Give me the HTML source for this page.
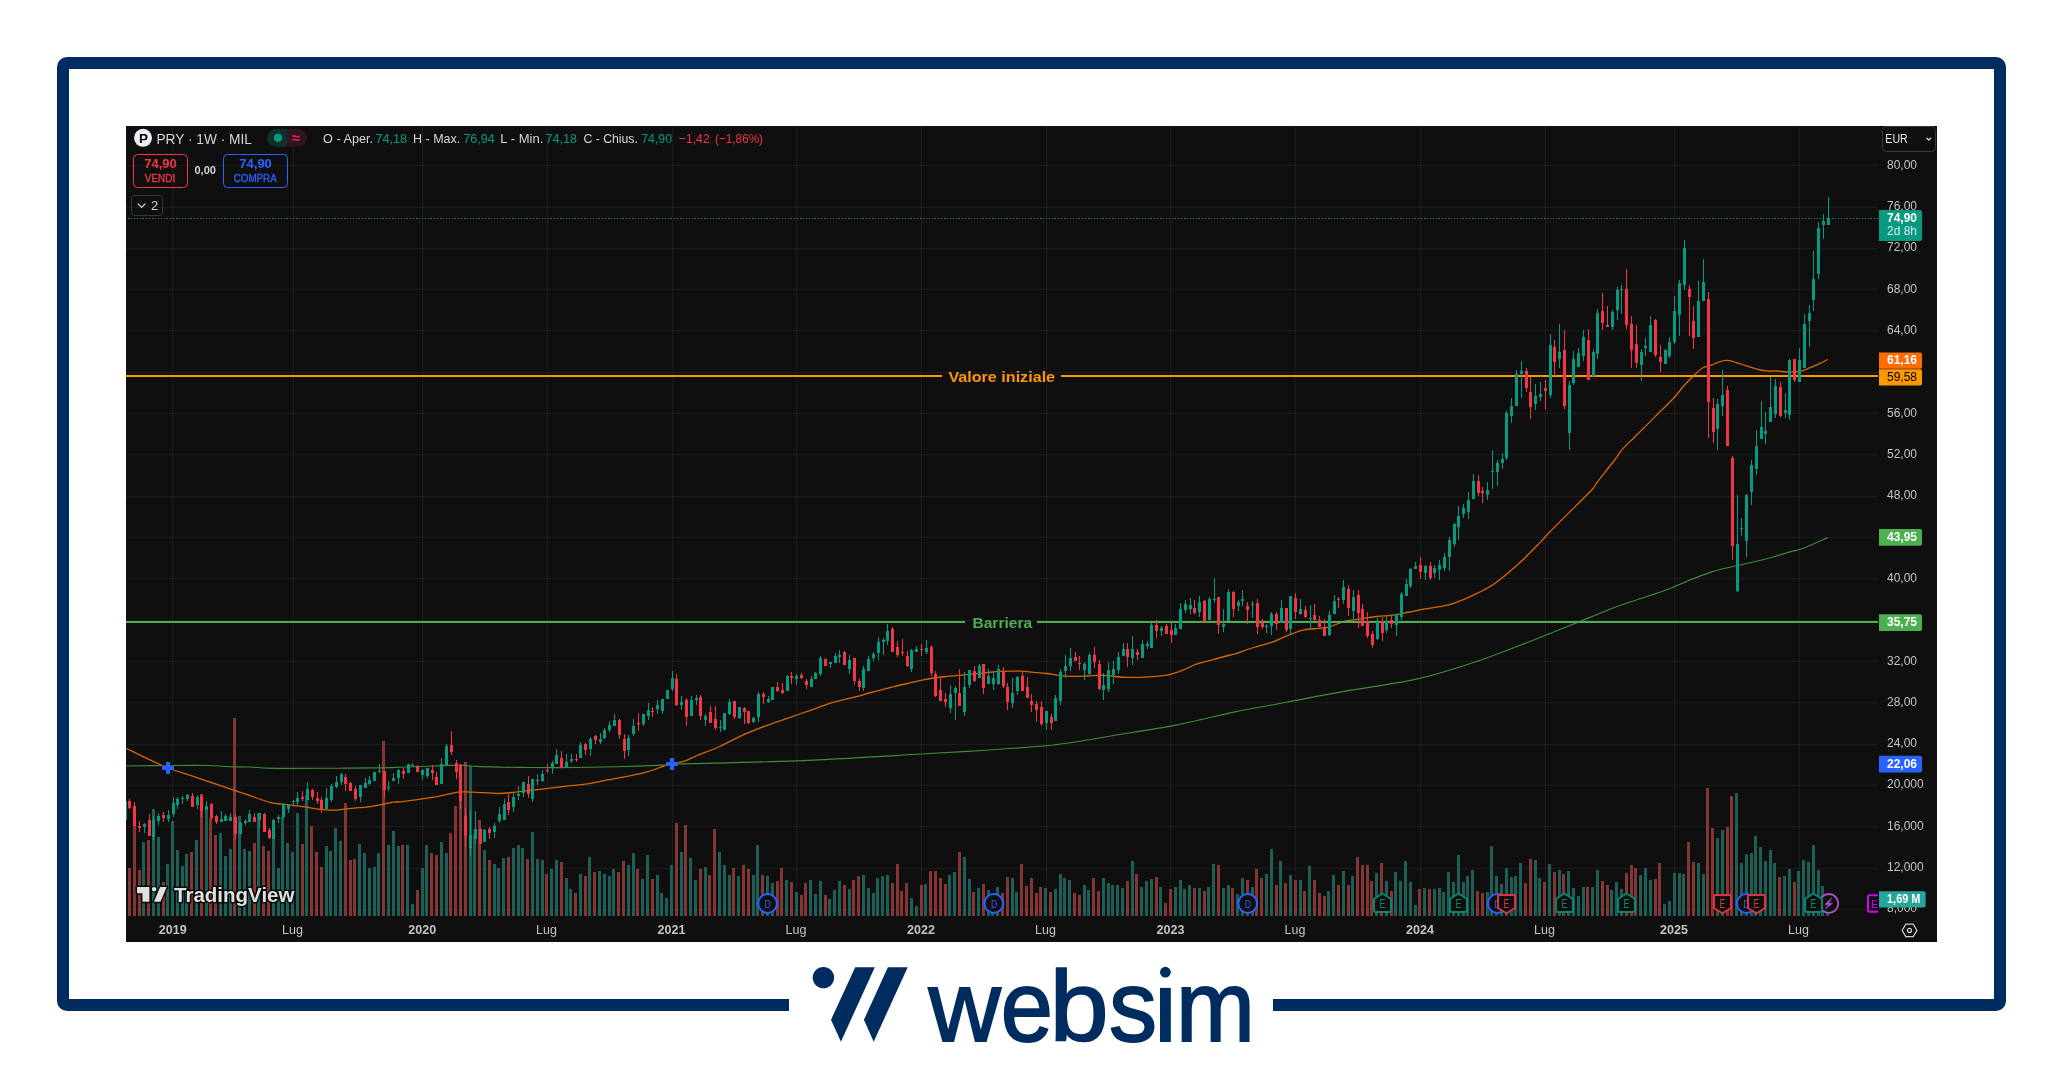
<!DOCTYPE html><html><head><meta charset="utf-8"><style>html,body{margin:0;padding:0;background:#fff;}body{width:2063px;height:1068px;overflow:hidden;position:relative}svg{display:block;will-change:transform}</style></head><body>
<svg width="2063" height="1068" viewBox="0 0 2063 1068" font-family='"Liberation Sans", sans-serif'>
<defs><clipPath id="plot"><rect x="126" y="126" width="1752" height="790"/></clipPath><clipPath id="chart"><rect x="126" y="126" width="1811" height="816"/></clipPath></defs>
<rect x="63" y="63" width="1937" height="942" rx="4" fill="none" stroke="#002c5f" stroke-width="12"/>
<rect x="789" y="995" width="484" height="20" fill="#fff"/>
<rect x="126" y="126" width="1811" height="816" fill="#0f0f0f"/>
<path d="M126 165.5H1878M126 207.5H1878M126 248.5H1878M126 289.5H1878M126 330.5H1878M126 372.5H1878M126 413.5H1878M126 454.5H1878M126 496.5H1878M126 537.5H1878M126 578.5H1878M126 620.5H1878M126 661.5H1878M126 702.5H1878M126 744.5H1878M126 785.5H1878M126 826.5H1878M126 868.5H1878M126 909.5H1878M172.5 126V916M293.5 126V916M422.5 126V916M547.5 126V916M672.5 126V916M796.5 126V916M921.5 126V916M1046.5 126V916M1170.5 126V916M1295.5 126V916M1420.5 126V916M1545.5 126V916M1674.5 126V916M1799.5 126V916" stroke="rgba(242,242,242,0.06)" stroke-width="1" fill="none"/>
<g clip-path="url(#plot)" shape-rendering="crispEdges">
<path d="M142 842h3V916h-3zM152 809h3V916h-3zM157 837h3V916h-3zM166 864h3V916h-3zM171 821h3V916h-3zM176 850h3V916h-3zM181 866h3V916h-3zM185 854h3V916h-3zM195 840h3V916h-3zM205 810h3V916h-3zM219 833h3V916h-3zM224 856h3V916h-3zM229 849h3V916h-3zM238 816h3V916h-3zM243 849h3V916h-3zM248 851h3V916h-3zM257 813h3V916h-3zM272 820h3V916h-3zM277 868h3V916h-3zM281 817h3V916h-3zM286 843h3V916h-3zM291 852h3V916h-3zM296 813h3V916h-3zM305 795h3V916h-3zM325 846h3V916h-3zM329 851h3V916h-3zM334 828h3V916h-3zM339 841h3V916h-3zM358 844h3V916h-3zM363 853h3V916h-3zM368 868h3V916h-3zM373 867h3V916h-3zM377 853h3V916h-3zM387 845h3V916h-3zM392 831h3V916h-3zM397 846h3V916h-3zM406 845h3V916h-3zM411 904h3V916h-3zM421 868h3V916h-3zM425 845h3V916h-3zM440 842h3V916h-3zM445 853h3V916h-3zM469 766h3V916h-3zM473 834h3V916h-3zM483 850h3V916h-3zM493 864h3V916h-3zM497 868h3V916h-3zM502 858h3V916h-3zM512 848h3V916h-3zM517 845h3V916h-3zM521 848h3V916h-3zM531 832h3V916h-3zM536 859h3V916h-3zM541 860h3V916h-3zM550 869h3V916h-3zM555 860h3V916h-3zM565 878h3V916h-3zM569 889h3V916h-3zM579 874h3V916h-3zM588 857h3V916h-3zM598 871h3V916h-3zM603 874h3V916h-3zM608 876h3V916h-3zM612 869h3V916h-3zM627 865h3V916h-3zM632 853h3V916h-3zM641 879h3V916h-3zM646 855h3V916h-3zM656 875h3V916h-3zM660 893h3V916h-3zM665 898h3V916h-3zM670 865h3V916h-3zM680 852h3V916h-3zM689 858h3V916h-3zM694 880h3V916h-3zM704 867h3V916h-3zM718 852h3V916h-3zM723 865h3V916h-3zM728 875h3V916h-3zM737 876h3V916h-3zM752 875h3V916h-3zM756 845h3V916h-3zM766 876h3V916h-3zM771 883h3V916h-3zM785 880h3V916h-3zM795 892h3V916h-3zM809 880h3V916h-3zM814 894h3V916h-3zM819 881h3V916h-3zM828 899h3V916h-3zM833 890h3V916h-3zM838 881h3V916h-3zM848 889h3V916h-3zM862 875h3V916h-3zM867 888h3V916h-3zM872 893h3V916h-3zM876 878h3V916h-3zM881 876h3V916h-3zM886 875h3V916h-3zM910 898h3V916h-3zM915 906h3V916h-3zM924 884h3V916h-3zM948 875h3V916h-3zM953 872h3V916h-3zM963 857h3V916h-3zM968 879h3V916h-3zM977 888h3V916h-3zM987 890h3V916h-3zM991 895h3V916h-3zM996 887h3V916h-3zM1011 878h3V916h-3zM1015 892h3V916h-3zM1044 888h3V916h-3zM1054 889h3V916h-3zM1059 874h3V916h-3zM1063 878h3V916h-3zM1068 880h3V916h-3zM1083 885h3V916h-3zM1087 890h3V916h-3zM1102 878h3V916h-3zM1107 883h3V916h-3zM1111 885h3V916h-3zM1116 885h3V916h-3zM1121 888h3V916h-3zM1131 861h3V916h-3zM1140 887h3V916h-3zM1145 881h3V916h-3zM1150 879h3V916h-3zM1159 887h3V916h-3zM1174 887h3V916h-3zM1179 880h3V916h-3zM1183 889h3V916h-3zM1188 885h3V916h-3zM1198 888h3V916h-3zM1207 887h3V916h-3zM1212 864h3V916h-3zM1222 888h3V916h-3zM1227 885h3V916h-3zM1236 894h3V916h-3zM1241 878h3V916h-3zM1251 887h3V916h-3zM1265 874h3V916h-3zM1270 849h3V916h-3zM1279 861h3V916h-3zM1289 875h3V916h-3zM1299 880h3V916h-3zM1308 866h3V916h-3zM1327 891h3V916h-3zM1332 875h3V916h-3zM1342 871h3V916h-3zM1351 876h3V916h-3zM1375 873h3V916h-3zM1385 881h3V916h-3zM1394 872h3V916h-3zM1399 881h3V916h-3zM1404 861h3V916h-3zM1409 882h3V916h-3zM1414 905h3V916h-3zM1423 888h3V916h-3zM1433 889h3V916h-3zM1438 888h3V916h-3zM1442 892h3V916h-3zM1447 872h3V916h-3zM1452 882h3V916h-3zM1457 855h3V916h-3zM1462 882h3V916h-3zM1466 876h3V916h-3zM1471 870h3V916h-3zM1486 892h3V916h-3zM1490 846h3V916h-3zM1495 876h3V916h-3zM1500 884h3V916h-3zM1505 868h3V916h-3zM1510 877h3V916h-3zM1514 876h3V916h-3zM1519 863h3V916h-3zM1534 860h3V916h-3zM1538 878h3V916h-3zM1548 864h3V916h-3zM1558 870h3V916h-3zM1567 871h3V916h-3zM1572 888h3V916h-3zM1577 896h3V916h-3zM1582 887h3V916h-3zM1591 887h3V916h-3zM1596 870h3V916h-3zM1610 890h3V916h-3zM1615 882h3V916h-3zM1620 889h3V916h-3zM1639 875h3V916h-3zM1644 868h3V916h-3zM1649 880h3V916h-3zM1663 904h3V916h-3zM1668 901h3V916h-3zM1673 873h3V916h-3zM1678 873h3V916h-3zM1682 874h3V916h-3zM1697 863h3V916h-3zM1702 874h3V916h-3zM1716 838h3V916h-3zM1721 830h3V916h-3zM1735 793h3V916h-3zM1740 863h3V916h-3zM1745 854h3V916h-3zM1750 853h3V916h-3zM1754 836h3V916h-3zM1759 847h3V916h-3zM1764 861h3V916h-3zM1769 850h3V916h-3zM1773 863h3V916h-3zM1783 876h3V916h-3zM1788 869h3V916h-3zM1797 871h3V916h-3zM1802 860h3V916h-3zM1807 862h3V916h-3zM1812 845h3V916h-3zM1817 870h3V916h-3zM1821 886h3V916h-3zM1826 913h3V916h-3z" fill="#1d5f56"/>
<path d="M128 868h3V916h-3zM133 826h3V916h-3zM138 870h3V916h-3zM147 840h3V916h-3zM162 882h3V916h-3zM190 852h3V916h-3zM200 794h3V916h-3zM209 818h3V916h-3zM214 835h3V916h-3zM233 718h3V916h-3zM253 843h3V916h-3zM262 846h3V916h-3zM267 851h3V916h-3zM301 844h3V916h-3zM310 826h3V916h-3zM315 852h3V916h-3zM320 867h3V916h-3zM344 803h3V916h-3zM349 860h3V916h-3zM353 859h3V916h-3zM382 741h3V916h-3zM401 845h3V916h-3zM416 890h3V916h-3zM430 853h3V916h-3zM435 855h3V916h-3zM449 833h3V916h-3zM454 806h3V916h-3zM459 785h3V916h-3zM464 762h3V916h-3zM478 820h3V916h-3zM488 860h3V916h-3zM507 857h3V916h-3zM526 859h3V916h-3zM545 874h3V916h-3zM560 862h3V916h-3zM574 893h3V916h-3zM584 876h3V916h-3zM593 872h3V916h-3zM617 872h3V916h-3zM622 861h3V916h-3zM636 869h3V916h-3zM651 879h3V916h-3zM675 823h3V916h-3zM684 825h3V916h-3zM699 869h3V916h-3zM708 875h3V916h-3zM713 829h3V916h-3zM732 868h3V916h-3zM742 865h3V916h-3zM747 869h3V916h-3zM761 875h3V916h-3zM776 881h3V916h-3zM780 868h3V916h-3zM790 882h3V916h-3zM800 895h3V916h-3zM804 883h3V916h-3zM824 895h3V916h-3zM843 885h3V916h-3zM852 880h3V916h-3zM857 876h3V916h-3zM891 883h3V916h-3zM896 864h3V916h-3zM900 891h3V916h-3zM905 883h3V916h-3zM920 885h3V916h-3zM929 871h3V916h-3zM934 871h3V916h-3zM939 878h3V916h-3zM944 884h3V916h-3zM958 852h3V916h-3zM972 892h3V916h-3zM982 884h3V916h-3zM1001 893h3V916h-3zM1006 877h3V916h-3zM1020 864h3V916h-3zM1025 886h3V916h-3zM1030 878h3V916h-3zM1035 893h3V916h-3zM1039 887h3V916h-3zM1049 892h3V916h-3zM1073 893h3V916h-3zM1078 895h3V916h-3zM1092 878h3V916h-3zM1097 891h3V916h-3zM1126 881h3V916h-3zM1135 874h3V916h-3zM1155 877h3V916h-3zM1164 903h3V916h-3zM1169 889h3V916h-3zM1193 888h3V916h-3zM1203 891h3V916h-3zM1217 865h3V916h-3zM1231 888h3V916h-3zM1246 880h3V916h-3zM1255 869h3V916h-3zM1260 878h3V916h-3zM1275 885h3V916h-3zM1284 883h3V916h-3zM1294 880h3V916h-3zM1303 891h3V916h-3zM1313 880h3V916h-3zM1318 893h3V916h-3zM1323 896h3V916h-3zM1337 885h3V916h-3zM1347 885h3V916h-3zM1356 857h3V916h-3zM1361 865h3V916h-3zM1366 865h3V916h-3zM1370 881h3V916h-3zM1380 863h3V916h-3zM1390 891h3V916h-3zM1418 889h3V916h-3zM1428 889h3V916h-3zM1476 891h3V916h-3zM1481 893h3V916h-3zM1524 883h3V916h-3zM1529 859h3V916h-3zM1543 882h3V916h-3zM1553 872h3V916h-3zM1562 874h3V916h-3zM1586 887h3V916h-3zM1601 881h3V916h-3zM1606 885h3V916h-3zM1625 873h3V916h-3zM1630 865h3V916h-3zM1634 868h3V916h-3zM1654 879h3V916h-3zM1658 863h3V916h-3zM1687 842h3V916h-3zM1692 862h3V916h-3zM1706 788h3V916h-3zM1711 828h3V916h-3zM1726 827h3V916h-3zM1730 796h3V916h-3zM1778 877h3V916h-3zM1793 882h3V916h-3z" fill="#833634"/>
</g>
<g clip-path="url(#plot)">
<path d="M126.0 766.0C132.9 765.9 153.5 765.6 167.2 765.5C180.9 765.4 197.9 765.3 208.4 765.5C218.9 765.7 223.1 766.5 230.0 766.7C236.9 767.0 243.5 766.8 249.7 767.0C255.9 767.2 260.5 767.9 267.4 768.1C274.3 768.3 279.5 768.3 290.9 768.3C302.3 768.3 321.6 768.3 336.0 768.2C350.4 768.1 365.8 768.1 377.4 767.9C389.0 767.7 396.1 767.3 405.5 767.0C414.9 766.7 424.5 766.3 433.6 766.0C442.7 765.7 452.9 765.0 460.0 765.1C467.1 765.2 469.1 766.0 476.2 766.4C483.3 766.8 493.8 767.0 502.5 767.2C511.2 767.4 519.1 767.4 528.7 767.5C538.3 767.6 545.4 767.7 560.0 767.6C574.6 767.5 599.4 767.1 616.2 766.7C633.1 766.3 650.5 765.6 661.1 765.1C671.7 764.6 657.5 764.6 680.0 763.9C702.5 763.2 756.1 762.5 796.3 760.9C836.5 759.2 889.9 755.8 921.4 754.0C952.9 752.2 964.5 751.6 985.4 750.2C1006.2 748.8 1034.4 746.8 1046.5 745.8C1058.6 744.8 1051.2 745.4 1058.1 744.4C1064.9 743.4 1077.9 741.6 1087.6 740.0C1097.3 738.4 1101.8 737.4 1116.3 735.0C1130.8 732.6 1155.1 729.2 1174.5 725.4C1193.9 721.6 1216.7 715.8 1232.6 712.4C1248.5 709.0 1251.7 708.8 1270.0 705.3C1288.3 701.8 1318.5 695.9 1342.7 691.6C1366.9 687.3 1393.6 684.2 1415.4 679.4C1437.2 674.5 1454.2 669.0 1473.6 662.5C1493.0 656.0 1512.4 648.2 1531.8 640.7C1551.2 633.2 1575.5 623.2 1590.0 617.4C1604.5 611.6 1606.9 610.1 1619.0 605.8C1631.1 601.4 1650.9 595.6 1662.7 591.3C1674.5 587.0 1681.7 583.3 1690.0 580.0C1698.3 576.7 1704.9 573.9 1712.5 571.6C1720.1 569.3 1726.7 568.0 1735.4 566.0C1744.1 564.0 1755.4 561.6 1764.5 559.3C1773.6 556.9 1783.7 553.7 1790.0 551.9C1796.3 550.1 1796.0 550.9 1802.3 548.5C1808.6 546.1 1823.5 539.4 1827.7 537.6" fill="none" stroke="#3f8b3a" stroke-width="1.15" stroke-linejoin="round"/>
<path d="M126.0 748.4C132.2 751.3 155.2 762.4 163.1 766.0C171.0 769.6 167.9 768.1 173.4 770.0C178.9 771.9 185.7 773.8 196.0 777.3C206.3 780.8 226.4 787.7 235.2 790.7C244.0 793.7 242.7 793.2 248.7 795.2C254.7 797.2 265.6 801.2 271.2 802.7C276.8 804.2 276.8 803.4 282.4 804.1C288.0 804.8 298.6 806.0 304.9 806.9C311.1 807.8 314.8 808.8 319.9 809.3C325.0 809.8 332.4 810.2 335.8 810.2C339.2 810.2 337.0 809.9 340.0 809.6C343.0 809.3 349.3 808.7 354.0 808.2C358.7 807.7 363.4 807.4 368.1 806.8C372.8 806.2 377.4 805.3 382.1 804.4C386.8 803.5 393.2 802.0 396.2 801.6C399.2 801.2 393.2 802.6 400.0 801.8C406.8 801.0 427.5 798.2 437.1 796.6C446.7 795.0 451.9 792.9 457.7 792.1C463.5 791.4 465.2 791.9 472.1 792.1C479.0 792.3 491.7 793.5 498.9 793.5C506.1 793.5 507.8 792.9 515.4 792.1C523.0 791.3 536.0 789.8 544.2 788.8C552.4 787.8 557.9 787.1 564.8 786.3C571.7 785.5 578.6 785.2 585.5 784.2C592.4 783.2 599.2 781.4 606.1 780.1C613.0 778.8 619.8 777.8 626.7 776.4C633.6 775.0 640.4 773.8 647.3 771.9C654.2 770.0 661.7 766.5 667.9 764.7C674.1 762.9 679.5 762.7 684.4 761.2C689.3 759.7 691.4 758.0 697.3 755.5C703.2 753.0 712.3 749.9 719.8 746.5C727.3 743.1 734.7 738.7 742.2 735.3C749.7 731.9 757.2 729.1 764.7 726.3C772.2 723.5 779.7 721.0 787.2 718.4C794.7 715.8 802.2 713.2 809.7 710.6C817.2 708.0 824.6 705.0 832.1 702.7C839.6 700.5 848.1 698.8 854.6 697.1C861.1 695.4 865.4 694.0 871.0 692.5C876.6 691.0 882.6 689.5 888.3 688.1C894.0 686.7 899.4 685.3 905.0 684.0C910.6 682.7 917.3 681.2 922.0 680.2C926.7 679.2 928.6 678.7 933.3 678.0C938.0 677.3 944.4 676.8 950.0 676.2C955.6 675.6 961.2 675.2 967.0 674.6C972.8 674.0 979.5 673.3 985.0 672.8C990.5 672.3 994.1 671.7 1000.0 671.4C1005.9 671.1 1015.1 671.0 1020.3 671.1C1025.5 671.2 1026.5 671.8 1030.9 672.2C1035.3 672.6 1042.0 673.0 1046.5 673.5C1051.0 674.0 1053.8 674.8 1058.1 675.3C1062.4 675.8 1067.2 676.3 1072.1 676.4C1076.9 676.5 1082.0 676.2 1087.2 676.0C1092.4 675.8 1096.7 675.1 1103.0 675.3C1109.3 675.5 1117.8 677.0 1125.0 677.3C1132.2 677.6 1139.0 677.5 1146.0 677.1C1153.0 676.7 1160.7 676.2 1166.7 675.1C1172.7 674.0 1176.9 672.3 1182.1 670.4C1187.2 668.5 1192.4 665.5 1197.6 663.7C1202.8 661.9 1207.6 661.1 1213.0 659.6C1218.4 658.1 1226.0 656.0 1230.0 655.0C1234.0 654.0 1233.0 654.6 1236.9 653.4C1240.9 652.1 1248.1 649.3 1253.7 647.5C1259.3 645.7 1265.0 644.7 1270.6 642.7C1276.2 640.7 1283.6 637.2 1287.4 635.7C1291.2 634.2 1290.5 634.4 1293.3 633.4C1296.1 632.4 1298.5 630.8 1304.3 629.8C1310.1 628.8 1321.6 628.5 1328.2 627.1C1334.8 625.7 1339.2 622.8 1344.0 621.5C1348.8 620.2 1351.8 620.1 1357.3 619.3C1362.8 618.5 1371.0 617.2 1376.8 616.5C1382.6 615.8 1386.7 616.0 1392.2 615.2C1397.7 614.5 1404.4 613.0 1409.6 612.0C1414.8 611.0 1416.8 610.4 1423.6 609.1C1430.4 607.8 1442.0 606.8 1450.3 604.4C1458.6 602.0 1466.3 598.4 1473.6 595.0C1480.9 591.6 1486.7 589.0 1494.0 584.0C1501.3 579.0 1509.5 572.0 1517.2 565.1C1524.9 558.2 1534.6 548.1 1540.0 542.6C1545.4 537.1 1544.7 537.1 1549.4 532.3C1554.1 527.5 1560.9 520.8 1568.1 513.6C1575.3 506.4 1587.7 494.2 1592.4 489.2C1597.1 484.2 1592.5 488.5 1596.2 483.6C1599.9 478.7 1610.3 465.7 1614.6 460.0C1618.9 454.3 1618.7 453.5 1622.1 449.6C1625.5 445.7 1630.3 441.4 1635.0 436.7C1639.7 432.0 1645.4 426.3 1650.1 421.6C1654.8 416.9 1659.0 412.6 1663.0 408.7C1667.0 404.8 1670.2 401.9 1673.8 398.0C1677.4 394.1 1681.0 388.9 1684.6 385.0C1688.2 381.1 1692.2 377.2 1695.3 374.3C1698.3 371.4 1700.2 369.3 1702.9 367.8C1705.6 366.3 1708.8 366.2 1711.5 365.2C1714.2 364.2 1716.5 362.6 1719.0 361.8C1721.5 361.0 1724.1 360.3 1726.6 360.3C1729.1 360.3 1730.7 360.8 1734.1 361.8C1737.5 362.8 1742.7 364.7 1747.0 366.1C1751.3 367.5 1756.4 369.2 1760.0 370.0C1763.6 370.8 1765.6 370.8 1768.5 371.0C1771.4 371.2 1773.6 370.8 1777.2 371.0C1780.8 371.2 1786.2 372.1 1790.1 372.1C1793.9 372.1 1797.0 371.9 1800.3 371.2C1803.6 370.5 1806.8 369.0 1810.1 367.7C1813.4 366.4 1817.1 364.8 1820.0 363.4C1822.9 362.0 1826.4 360.1 1827.7 359.5" fill="none" stroke="#d96500" stroke-width="1.3" stroke-linejoin="round"/>
</g>
<path d="M126 376H942M1061 376H1878" stroke="#ff9800" stroke-width="2"/>
<path d="M126 622H965M1037 622H1878" stroke="#4caf50" stroke-width="2"/>
<text x="948.4" y="381.6" font-size="15" font-weight="bold" fill="#ff9800" textLength="106.7" lengthAdjust="spacingAndGlyphs">Valore iniziale</text>
<text x="972.4" y="627.7" font-size="15" font-weight="bold" fill="#4caf50" textLength="59.8" lengthAdjust="spacingAndGlyphs">Barriera</text>
<g clip-path="url(#plot)" shape-rendering="crispEdges">
<path d="M125 798h1V801h1V820h-1V822h-1V820h-1V801h1zM144 823h1V824h1V827h-1V833h-1V827h-1V824h1zM153 816h1V820h1V837h-1V840h-1V837h-1V820h1zM158 813h1V816h1V821h-1V825h-1V821h-1V816h1zM168 810h1V815h1V819h-1V822h-1V819h-1V815h1zM173 797h1V803h1V814h-1V817h-1V814h-1V803h1zM177 797h1V799h1V805h-1V809h-1V805h-1V799h1zM182 796h1V798h1V799h-1V804h-1V799h-1V798h1zM187 794h1V795h1V799h-1V801h-1V799h-1V795h1zM197 795h1V797h1V805h-1V809h-1V805h-1V797h1zM206 801h1V806h1V810h-1V810h-1V810h-1V806h1zM221 811h1V819h1V822h-1V822h-1V822h-1V819h1zM225 814h1V816h1V821h-1V821h-1V821h-1V816h1zM230 813h1V817h1V821h-1V821h-1V821h-1V817h1zM240 822h1V823h1V834h-1V835h-1V834h-1V823h1zM245 819h1V821h1V823h-1V825h-1V823h-1V821h1zM249 810h1V814h1V822h-1V822h-1V822h-1V814h1zM259 813h1V813h1V820h-1V828h-1V820h-1V813h1zM273 819h1V820h1V839h-1V839h-1V839h-1V820h1zM278 815h1V817h1V819h-1V823h-1V819h-1V817h1zM283 803h1V804h1V817h-1V819h-1V817h-1V804h1zM288 804h1V805h1V809h-1V813h-1V809h-1V805h1zM293 800h1V801h1V802h-1V805h-1V802h-1V801h1zM297 792h1V798h1V802h-1V805h-1V802h-1V798h1zM307 782h1V789h1V800h-1V800h-1V800h-1V789h1zM326 788h1V798h1V809h-1V809h-1V809h-1V798h1zM331 784h1V786h1V800h-1V802h-1V800h-1V786h1zM336 776h1V782h1V787h-1V788h-1V787h-1V782h1zM341 773h1V774h1V782h-1V785h-1V782h-1V774h1zM360 785h1V785h1V797h-1V802h-1V797h-1V785h1zM365 778h1V783h1V788h-1V788h-1V788h-1V783h1zM369 776h1V780h1V784h-1V785h-1V784h-1V780h1zM374 772h1V772h1V781h-1V781h-1V781h-1V772h1zM379 764h1V771h1V772h-1V773h-1V772h-1V771h1zM388 781h1V787h1V788h-1V791h-1V788h-1V787h1zM393 773h1V778h1V781h-1V781h-1V781h-1V778h1zM398 769h1V770h1V778h-1V784h-1V778h-1V770h1zM408 764h1V764h1V773h-1V773h-1V773h-1V764h1zM412 763h1V765h1V766h-1V766h-1V766h-1V765h1zM422 769h1V770h1V775h-1V780h-1V775h-1V770h1zM427 768h1V768h1V776h-1V778h-1V776h-1V768h1zM441 758h1V764h1V784h-1V784h-1V784h-1V764h1zM446 744h1V746h1V766h-1V766h-1V766h-1V746h1zM470 810h1V835h1V848h-1V856h-1V848h-1V835h1zM475 811h1V829h1V839h-1V844h-1V839h-1V829h1zM484 829h1V830h1V842h-1V842h-1V842h-1V830h1zM494 823h1V826h1V832h-1V838h-1V832h-1V826h1zM499 807h1V814h1V821h-1V823h-1V821h-1V814h1zM504 799h1V804h1V820h-1V820h-1V820h-1V804h1zM513 793h1V797h1V807h-1V812h-1V807h-1V797h1zM518 786h1V794h1V796h-1V800h-1V796h-1V794h1zM523 782h1V782h1V793h-1V797h-1V793h-1V782h1zM532 779h1V779h1V799h-1V802h-1V799h-1V779h1zM537 774h1V780h1V781h-1V785h-1V781h-1V780h1zM542 770h1V774h1V781h-1V782h-1V781h-1V774h1zM552 761h1V763h1V768h-1V774h-1V768h-1V763h1zM556 749h1V755h1V764h-1V764h-1V764h-1V755h1zM566 754h1V762h1V768h-1V768h-1V768h-1V762h1zM571 754h1V759h1V761h-1V763h-1V761h-1V759h1zM580 742h1V745h1V758h-1V758h-1V758h-1V745h1zM590 737h1V739h1V749h-1V756h-1V749h-1V739h1zM600 733h1V739h1V742h-1V744h-1V742h-1V739h1zM604 728h1V730h1V738h-1V739h-1V738h-1V730h1zM609 721h1V725h1V730h-1V732h-1V730h-1V725h1zM614 714h1V720h1V726h-1V726h-1V726h-1V720h1zM628 735h1V738h1V750h-1V756h-1V750h-1V738h1zM633 719h1V726h1V734h-1V736h-1V734h-1V726h1zM643 714h1V714h1V724h-1V726h-1V724h-1V714h1zM648 703h1V710h1V716h-1V720h-1V716h-1V710h1zM657 700h1V705h1V709h-1V714h-1V709h-1V705h1zM662 699h1V699h1V711h-1V714h-1V711h-1V699h1zM667 690h1V690h1V699h-1V699h-1V699h-1V690h1zM672 671h1V678h1V689h-1V691h-1V689h-1V678h1zM681 696h1V702h1V705h-1V710h-1V705h-1V702h1zM691 696h1V700h1V716h-1V716h-1V716h-1V700h1zM696 695h1V698h1V700h-1V705h-1V700h-1V698h1zM705 714h1V716h1V720h-1V726h-1V720h-1V716h1zM720 720h1V727h1V728h-1V732h-1V728h-1V727h1zM724 713h1V713h1V730h-1V730h-1V730h-1V713h1zM729 699h1V702h1V714h-1V715h-1V714h-1V702h1zM739 707h1V707h1V718h-1V719h-1V718h-1V707h1zM753 717h1V718h1V722h-1V723h-1V722h-1V718h1zM758 692h1V694h1V717h-1V722h-1V717h-1V694h1zM768 696h1V699h1V702h-1V703h-1V702h-1V699h1zM772 687h1V687h1V700h-1V700h-1V700h-1V687h1zM787 675h1V676h1V691h-1V691h-1V691h-1V676h1zM796 674h1V676h1V679h-1V685h-1V679h-1V676h1zM811 676h1V679h1V687h-1V687h-1V687h-1V679h1zM815 672h1V673h1V679h-1V679h-1V679h-1V673h1zM820 656h1V658h1V674h-1V676h-1V674h-1V658h1zM830 662h1V662h1V664h-1V668h-1V664h-1V662h1zM835 653h1V656h1V663h-1V663h-1V663h-1V656h1zM839 650h1V655h1V657h-1V663h-1V657h-1V655h1zM849 655h1V660h1V669h-1V674h-1V669h-1V660h1zM863 666h1V669h1V688h-1V691h-1V688h-1V669h1zM868 656h1V659h1V671h-1V671h-1V671h-1V659h1zM873 652h1V654h1V658h-1V661h-1V658h-1V654h1zM878 637h1V642h1V653h-1V660h-1V653h-1V642h1zM883 638h1V640h1V642h-1V655h-1V642h-1V640h1zM887 624h1V631h1V641h-1V645h-1V641h-1V631h1zM911 649h1V650h1V669h-1V672h-1V669h-1V650h1zM916 646h1V649h1V652h-1V652h-1V652h-1V649h1zM926 640h1V648h1V652h-1V654h-1V652h-1V648h1zM950 685h1V694h1V708h-1V713h-1V708h-1V694h1zM955 686h1V688h1V693h-1V720h-1V693h-1V688h1zM964 672h1V687h1V712h-1V716h-1V712h-1V687h1zM969 670h1V670h1V685h-1V688h-1V685h-1V670h1zM979 664h1V666h1V678h-1V678h-1V678h-1V666h1zM988 669h1V676h1V684h-1V684h-1V684h-1V676h1zM993 672h1V678h1V684h-1V690h-1V684h-1V678h1zM998 665h1V669h1V684h-1V685h-1V684h-1V669h1zM1012 678h1V693h1V703h-1V708h-1V703h-1V693h1zM1017 676h1V677h1V691h-1V695h-1V691h-1V677h1zM1046 711h1V711h1V723h-1V730h-1V723h-1V711h1zM1055 695h1V698h1V721h-1V721h-1V721h-1V698h1zM1060 669h1V672h1V701h-1V705h-1V701h-1V672h1zM1065 655h1V666h1V671h-1V678h-1V671h-1V666h1zM1070 648h1V658h1V666h-1V671h-1V666h-1V658h1zM1084 662h1V664h1V670h-1V680h-1V670h-1V664h1zM1089 653h1V655h1V674h-1V675h-1V674h-1V655h1zM1103 673h1V685h1V690h-1V700h-1V690h-1V685h1zM1108 662h1V670h1V689h-1V692h-1V689h-1V670h1zM1113 661h1V669h1V675h-1V684h-1V675h-1V669h1zM1118 652h1V657h1V670h-1V674h-1V670h-1V657h1zM1123 643h1V649h1V656h-1V656h-1V656h-1V649h1zM1132 636h1V649h1V658h-1V665h-1V658h-1V649h1zM1142 640h1V644h1V658h-1V658h-1V658h-1V644h1zM1147 641h1V644h1V646h-1V649h-1V646h-1V644h1zM1151 623h1V625h1V648h-1V648h-1V648h-1V625h1zM1161 626h1V628h1V631h-1V636h-1V631h-1V628h1zM1175 624h1V628h1V635h-1V635h-1V635h-1V628h1zM1180 603h1V609h1V629h-1V629h-1V629h-1V609h1zM1185 600h1V604h1V610h-1V613h-1V610h-1V604h1zM1190 598h1V605h1V609h-1V614h-1V609h-1V605h1zM1199 596h1V602h1V612h-1V617h-1V612h-1V602h1zM1209 597h1V599h1V620h-1V620h-1V620h-1V599h1zM1214 578h1V599h1V600h-1V603h-1V600h-1V599h1zM1223 609h1V624h1V627h-1V632h-1V627h-1V624h1zM1228 589h1V592h1V621h-1V621h-1V621h-1V592h1zM1238 600h1V602h1V606h-1V611h-1V606h-1V602h1zM1242 590h1V599h1V601h-1V606h-1V601h-1V599h1zM1252 601h1V604h1V605h-1V618h-1V605h-1V604h1zM1266 624h1V626h1V627h-1V633h-1V627h-1V626h1zM1271 612h1V614h1V626h-1V635h-1V626h-1V614h1zM1281 600h1V608h1V623h-1V623h-1V623h-1V608h1zM1290 596h1V596h1V629h-1V635h-1V629h-1V596h1zM1300 599h1V609h1V614h-1V615h-1V614h-1V609h1zM1310 605h1V618h1V619h-1V629h-1V619h-1V618h1zM1329 611h1V615h1V635h-1V636h-1V635h-1V615h1zM1334 595h1V601h1V614h-1V614h-1V614h-1V601h1zM1343 580h1V587h1V600h-1V604h-1V600h-1V587h1zM1353 590h1V597h1V611h-1V620h-1V611h-1V597h1zM1377 618h1V622h1V639h-1V640h-1V639h-1V622h1zM1386 616h1V622h1V630h-1V633h-1V630h-1V622h1zM1396 614h1V614h1V625h-1V636h-1V625h-1V614h1zM1401 592h1V594h1V617h-1V620h-1V617h-1V594h1zM1406 579h1V584h1V596h-1V596h-1V596h-1V584h1zM1410 568h1V569h1V586h-1V588h-1V586h-1V569h1zM1415 562h1V566h1V569h-1V569h-1V569h-1V566h1zM1425 565h1V566h1V573h-1V580h-1V573h-1V566h1zM1434 565h1V568h1V573h-1V578h-1V573h-1V568h1zM1439 560h1V565h1V570h-1V580h-1V570h-1V565h1zM1444 553h1V557h1V568h-1V571h-1V568h-1V557h1zM1449 537h1V540h1V557h-1V571h-1V557h-1V540h1zM1454 523h1V524h1V544h-1V547h-1V544h-1V524h1zM1458 506h1V516h1V527h-1V540h-1V527h-1V516h1zM1463 504h1V508h1V514h-1V518h-1V514h-1V508h1zM1468 492h1V500h1V512h-1V519h-1V512h-1V500h1zM1473 474h1V481h1V499h-1V499h-1V499h-1V481h1zM1487 482h1V490h1V495h-1V500h-1V495h-1V490h1zM1492 450h1V471h1V472h-1V489h-1V472h-1V471h1zM1497 460h1V463h1V472h-1V486h-1V472h-1V463h1zM1502 453h1V459h1V463h-1V469h-1V463h-1V459h1zM1506 411h1V413h1V458h-1V460h-1V458h-1V413h1zM1511 398h1V406h1V416h-1V423h-1V416h-1V406h1zM1516 370h1V374h1V406h-1V406h-1V406h-1V374h1zM1521 361h1V371h1V374h-1V398h-1V374h-1V371h1zM1535 384h1V396h1V404h-1V410h-1V404h-1V396h1zM1540 382h1V394h1V397h-1V401h-1V397h-1V394h1zM1550 334h1V345h1V395h-1V398h-1V395h-1V345h1zM1559 324h1V352h1V359h-1V368h-1V359h-1V352h1zM1569 381h1V385h1V433h-1V450h-1V433h-1V385h1zM1573 351h1V359h1V383h-1V385h-1V383h-1V359h1zM1578 348h1V353h1V367h-1V367h-1V367h-1V353h1zM1583 330h1V337h1V356h-1V361h-1V356h-1V337h1zM1593 349h1V352h1V376h-1V377h-1V376h-1V352h1zM1597 309h1V313h1V354h-1V359h-1V354h-1V313h1zM1612 310h1V312h1V327h-1V330h-1V327h-1V312h1zM1617 287h1V290h1V310h-1V320h-1V310h-1V290h1zM1621 285h1V289h1V290h-1V314h-1V290h-1V289h1zM1641 349h1V352h1V365h-1V381h-1V365h-1V352h1zM1645 338h1V346h1V348h-1V356h-1V348h-1V346h1zM1650 316h1V325h1V352h-1V352h-1V352h-1V325h1zM1665 349h1V350h1V364h-1V364h-1V364h-1V350h1zM1669 337h1V342h1V356h-1V358h-1V356h-1V342h1zM1674 296h1V311h1V342h-1V344h-1V342h-1V311h1zM1679 280h1V283h1V315h-1V336h-1V315h-1V283h1zM1684 240h1V248h1V285h-1V290h-1V285h-1V248h1zM1698 281h1V301h1V337h-1V337h-1V337h-1V301h1zM1703 259h1V282h1V301h-1V301h-1V301h-1V282h1zM1717 399h1V404h1V429h-1V450h-1V429h-1V404h1zM1722 370h1V395h1V406h-1V416h-1V406h-1V395h1zM1737 495h1V544h1V591h-1V592h-1V591h-1V544h1zM1741 518h1V528h1V529h-1V536h-1V529h-1V528h1zM1746 494h1V495h1V541h-1V557h-1V541h-1V495h1zM1751 460h1V465h1V492h-1V505h-1V492h-1V465h1zM1756 430h1V446h1V469h-1V475h-1V469h-1V446h1zM1761 401h1V427h1V439h-1V439h-1V439h-1V427h1zM1765 412h1V431h1V434h-1V444h-1V434h-1V431h1zM1770 377h1V407h1V422h-1V422h-1V422h-1V407h1zM1775 379h1V386h1V414h-1V418h-1V414h-1V386h1zM1785 393h1V410h1V413h-1V418h-1V413h-1V410h1zM1789 359h1V360h1V415h-1V420h-1V415h-1V360h1zM1799 348h1V360h1V382h-1V382h-1V382h-1V360h1zM1804 314h1V324h1V368h-1V368h-1V368h-1V324h1zM1809 305h1V313h1V321h-1V347h-1V321h-1V313h1zM1813 251h1V279h1V300h-1V311h-1V300h-1V279h1zM1818 222h1V228h1V274h-1V279h-1V274h-1V228h1zM1823 214h1V221h1V225h-1V239h-1V225h-1V221h1zM1828 197h1V218h1V225h-1V225h-1V225h-1V218h1z" fill="#089981"/>
<path d="M129 799h1V801h1V808h-1V809h-1V808h-1V801h1zM134 802h1V806h1V826h-1V826h-1V826h-1V806h1zM139 821h1V826h1V828h-1V832h-1V828h-1V826h1zM149 814h1V820h1V836h-1V836h-1V836h-1V820h1zM163 812h1V815h1V818h-1V822h-1V818h-1V815h1zM192 793h1V796h1V807h-1V807h-1V807h-1V796h1zM201 794h1V796h1V811h-1V817h-1V811h-1V796h1zM211 803h1V804h1V818h-1V820h-1V818h-1V804h1zM216 815h1V816h1V822h-1V824h-1V822h-1V816h1zM235 814h1V817h1V834h-1V840h-1V834h-1V817h1zM254 813h1V817h1V822h-1V822h-1V822h-1V817h1zM264 813h1V814h1V832h-1V832h-1V832h-1V814h1zM269 828h1V830h1V838h-1V839h-1V838h-1V830h1zM302 791h1V797h1V799h-1V801h-1V799h-1V797h1zM312 789h1V790h1V797h-1V800h-1V797h-1V790h1zM317 792h1V798h1V801h-1V804h-1V801h-1V798h1zM321 797h1V800h1V809h-1V813h-1V809h-1V800h1zM345 774h1V777h1V784h-1V791h-1V784h-1V777h1zM350 782h1V783h1V791h-1V791h-1V791h-1V783h1zM355 786h1V789h1V799h-1V801h-1V799h-1V789h1zM384 771h1V771h1V790h-1V798h-1V790h-1V771h1zM403 768h1V771h1V774h-1V779h-1V774h-1V771h1zM417 765h1V766h1V772h-1V772h-1V772h-1V766h1zM432 765h1V770h1V773h-1V780h-1V773h-1V770h1zM436 772h1V777h1V785h-1V785h-1V785h-1V777h1zM451 731h1V745h1V752h-1V755h-1V752h-1V745h1zM456 760h1V763h1V772h-1V779h-1V772h-1V763h1zM460 764h1V765h1V801h-1V809h-1V801h-1V765h1zM465 808h1V816h1V836h-1V847h-1V836h-1V816h1zM480 828h1V829h1V844h-1V844h-1V844h-1V829h1zM489 827h1V829h1V833h-1V839h-1V833h-1V829h1zM508 794h1V802h1V810h-1V815h-1V810h-1V802h1zM528 776h1V784h1V794h-1V798h-1V794h-1V784h1zM547 764h1V770h1V771h-1V773h-1V771h-1V770h1zM561 751h1V758h1V768h-1V768h-1V768h-1V758h1zM576 754h1V759h1V760h-1V762h-1V760h-1V759h1zM585 743h1V744h1V750h-1V755h-1V750h-1V744h1zM595 735h1V736h1V740h-1V744h-1V740h-1V736h1zM619 719h1V720h1V735h-1V739h-1V735h-1V720h1zM624 734h1V739h1V751h-1V759h-1V751h-1V739h1zM638 713h1V723h1V724h-1V731h-1V724h-1V723h1zM652 707h1V711h1V712h-1V717h-1V712h-1V711h1zM676 674h1V679h1V705h-1V706h-1V705h-1V679h1zM686 698h1V700h1V717h-1V726h-1V717h-1V700h1zM700 695h1V697h1V716h-1V720h-1V716h-1V697h1zM710 706h1V712h1V723h-1V723h-1V723h-1V712h1zM715 706h1V719h1V728h-1V730h-1V728h-1V719h1zM734 701h1V701h1V717h-1V719h-1V717h-1V701h1zM744 707h1V708h1V712h-1V724h-1V712h-1V708h1zM748 711h1V711h1V723h-1V724h-1V723h-1V711h1zM763 692h1V694h1V697h-1V704h-1V697h-1V694h1zM777 682h1V687h1V691h-1V692h-1V691h-1V687h1zM782 683h1V690h1V693h-1V694h-1V693h-1V690h1zM791 672h1V676h1V678h-1V684h-1V678h-1V676h1zM801 673h1V675h1V678h-1V679h-1V678h-1V675h1zM806 679h1V681h1V685h-1V689h-1V685h-1V681h1zM825 658h1V659h1V666h-1V666h-1V666h-1V659h1zM844 651h1V652h1V665h-1V665h-1V665h-1V652h1zM854 658h1V658h1V681h-1V684h-1V681h-1V658h1zM859 679h1V681h1V687h-1V691h-1V687h-1V681h1zM892 627h1V629h1V652h-1V652h-1V652h-1V629h1zM897 641h1V647h1V655h-1V657h-1V655h-1V647h1zM902 639h1V652h1V653h-1V656h-1V653h-1V652h1zM907 651h1V656h1V666h-1V667h-1V666h-1V656h1zM921 644h1V649h1V650h-1V656h-1V650h-1V649h1zM931 645h1V647h1V673h-1V676h-1V673h-1V647h1zM935 671h1V674h1V696h-1V697h-1V696h-1V674h1zM940 677h1V690h1V701h-1V701h-1V701h-1V690h1zM945 693h1V699h1V702h-1V707h-1V702h-1V699h1zM959 669h1V693h1V706h-1V706h-1V706h-1V693h1zM974 666h1V671h1V681h-1V682h-1V681h-1V671h1zM983 664h1V664h1V688h-1V694h-1V688h-1V664h1zM1003 667h1V671h1V686h-1V688h-1V686h-1V671h1zM1007 683h1V687h1V702h-1V710h-1V702h-1V687h1zM1022 672h1V676h1V691h-1V691h-1V691h-1V676h1zM1027 677h1V687h1V698h-1V698h-1V698h-1V687h1zM1031 694h1V701h1V705h-1V712h-1V705h-1V701h1zM1036 701h1V704h1V710h-1V722h-1V710h-1V704h1zM1041 701h1V707h1V724h-1V726h-1V724h-1V707h1zM1051 714h1V717h1V723h-1V730h-1V723h-1V717h1zM1075 652h1V657h1V661h-1V661h-1V661h-1V657h1zM1079 656h1V663h1V664h-1V670h-1V664h-1V663h1zM1094 647h1V655h1V662h-1V668h-1V662h-1V655h1zM1099 660h1V664h1V689h-1V690h-1V689h-1V664h1zM1127 643h1V649h1V657h-1V667h-1V657h-1V649h1zM1137 649h1V652h1V655h-1V660h-1V655h-1V652h1zM1156 620h1V625h1V631h-1V638h-1V631h-1V625h1zM1166 624h1V626h1V634h-1V634h-1V634h-1V626h1zM1171 622h1V630h1V635h-1V643h-1V635h-1V630h1zM1194 600h1V608h1V613h-1V614h-1V613h-1V608h1zM1204 600h1V601h1V622h-1V622h-1V622h-1V601h1zM1218 597h1V597h1V625h-1V634h-1V625h-1V597h1zM1233 591h1V592h1V609h-1V617h-1V609h-1V592h1zM1247 602h1V606h1V610h-1V624h-1V610h-1V606h1zM1257 599h1V603h1V627h-1V634h-1V627h-1V603h1zM1262 619h1V622h1V627h-1V629h-1V627h-1V622h1zM1276 612h1V614h1V624h-1V630h-1V624h-1V614h1zM1286 608h1V608h1V630h-1V632h-1V630h-1V608h1zM1295 593h1V598h1V612h-1V619h-1V612h-1V598h1zM1305 606h1V610h1V617h-1V618h-1V617h-1V610h1zM1314 604h1V615h1V620h-1V621h-1V620h-1V615h1zM1319 616h1V620h1V627h-1V627h-1V627h-1V620h1zM1324 619h1V627h1V636h-1V636h-1V636h-1V627h1zM1338 597h1V599h1V600h-1V608h-1V600h-1V599h1zM1348 585h1V589h1V608h-1V616h-1V608h-1V589h1zM1358 590h1V595h1V613h-1V628h-1V613h-1V595h1zM1362 604h1V609h1V626h-1V626h-1V626h-1V609h1zM1367 612h1V621h1V636h-1V638h-1V636h-1V621h1zM1372 631h1V634h1V645h-1V648h-1V645h-1V634h1zM1382 617h1V621h1V633h-1V641h-1V633h-1V621h1zM1391 615h1V620h1V624h-1V628h-1V624h-1V620h1zM1420 557h1V565h1V572h-1V579h-1V572h-1V565h1zM1430 562h1V566h1V578h-1V580h-1V578h-1V566h1zM1478 475h1V481h1V493h-1V496h-1V493h-1V481h1zM1482 487h1V491h1V493h-1V503h-1V493h-1V491h1zM1526 368h1V371h1V388h-1V392h-1V388h-1V371h1zM1530 377h1V392h1V407h-1V419h-1V407h-1V392h1zM1545 380h1V388h1V391h-1V409h-1V391h-1V388h1zM1554 340h1V347h1V362h-1V376h-1V362h-1V347h1zM1564 330h1V350h1V406h-1V409h-1V406h-1V350h1zM1588 329h1V340h1V380h-1V380h-1V380h-1V340h1zM1602 293h1V311h1V323h-1V330h-1V323h-1V311h1zM1607 306h1V325h1V327h-1V327h-1V327h-1V325h1zM1626 269h1V289h1V325h-1V329h-1V325h-1V289h1zM1631 316h1V324h1V350h-1V368h-1V350h-1V324h1zM1636 325h1V344h1V363h-1V368h-1V363h-1V344h1zM1655 319h1V320h1V355h-1V357h-1V355h-1V320h1zM1660 345h1V357h1V362h-1V372h-1V362h-1V357h1zM1689 285h1V289h1V297h-1V336h-1V297h-1V289h1zM1693 306h1V321h1V338h-1V349h-1V338h-1V321h1zM1708 292h1V299h1V402h-1V438h-1V402h-1V299h1zM1713 398h1V408h1V432h-1V443h-1V432h-1V408h1zM1727 386h1V390h1V446h-1V446h-1V446h-1V390h1zM1732 456h1V458h1V546h-1V560h-1V546h-1V458h1zM1780 382h1V387h1V416h-1V417h-1V416h-1V387h1zM1794 359h1V359h1V380h-1V382h-1V380h-1V359h1z" fill="#f23645"/>
</g>
<path d="M128 218.5H1878" stroke="#089981" stroke-width="1" stroke-dasharray="1 2"/>
<path d="M166 762h4v4h4v4h-4v4h-4v-4h-4v-4h4z" fill="#2962ff" stroke="#000" stroke-opacity="0.5" stroke-width="1" paint-order="stroke"/>
<path d="M670 758h4v4h4v4h-4v4h-4v-4h-4v-4h4z" fill="#2962ff" stroke="#000" stroke-opacity="0.5" stroke-width="1" paint-order="stroke"/>
<g>
<circle cx="767.55" cy="903.5" r="9.4" fill="#0f0f0f" stroke="#2962ff" stroke-width="2"/><text x="764.6" y="907.5" font-size="11.8" fill="#2962ff" textLength="6.3" lengthAdjust="spacingAndGlyphs">D</text>
<circle cx="993.8" cy="903.5" r="9.4" fill="#0f0f0f" stroke="#2962ff" stroke-width="2"/><text x="990.9" y="907.5" font-size="11.8" fill="#2962ff" textLength="6.3" lengthAdjust="spacingAndGlyphs">D</text>
<circle cx="1247.7" cy="903.5" r="9.4" fill="#0f0f0f" stroke="#2962ff" stroke-width="2"/><text x="1244.8" y="907.5" font-size="11.8" fill="#2962ff" textLength="6.3" lengthAdjust="spacingAndGlyphs">D</text>
<path d="M1382.5 893.5L1391.0 899V910.5q0 1.5 -1.5 1.5H1375.5q-1.5 0 -1.5 -1.5V899z" fill="#0f0f0f" stroke="#07876f" stroke-width="2" stroke-linejoin="round"/><text x="1379.6" y="908.1" font-size="12.5" fill="#07876f" textLength="5.8" lengthAdjust="spacingAndGlyphs">E</text>
<path d="M1458.4 893.5L1466.9 899V910.5q0 1.5 -1.5 1.5H1451.4q-1.5 0 -1.5 -1.5V899z" fill="#0f0f0f" stroke="#07876f" stroke-width="2" stroke-linejoin="round"/><text x="1455.5" y="908.1" font-size="12.5" fill="#07876f" textLength="5.8" lengthAdjust="spacingAndGlyphs">E</text>
<circle cx="1497.3" cy="903.5" r="9.4" fill="#0f0f0f" stroke="#2962ff" stroke-width="2"/><text x="1494.4" y="907.5" font-size="11.8" fill="#2962ff" textLength="6.3" lengthAdjust="spacingAndGlyphs">D</text>
<path d="M1498.0 896.5q0 -1.5 1.5 -1.5H1513.5q1.5 0 1.5 1.5V908L1506.5 913.3L1498.0 908z" fill="#0f0f0f" stroke="#dc3340" stroke-width="2" stroke-linejoin="round"/><text x="1503.6" y="908.1" font-size="12.5" fill="#dc3340" textLength="5.8" lengthAdjust="spacingAndGlyphs">E</text>
<path d="M1564.4 893.5L1572.9 899V910.5q0 1.5 -1.5 1.5H1557.4q-1.5 0 -1.5 -1.5V899z" fill="#0f0f0f" stroke="#07876f" stroke-width="2" stroke-linejoin="round"/><text x="1561.5" y="908.1" font-size="12.5" fill="#07876f" textLength="5.8" lengthAdjust="spacingAndGlyphs">E</text>
<path d="M1626.5 893.5L1635.0 899V910.5q0 1.5 -1.5 1.5H1619.5q-1.5 0 -1.5 -1.5V899z" fill="#0f0f0f" stroke="#07876f" stroke-width="2" stroke-linejoin="round"/><text x="1623.6" y="908.1" font-size="12.5" fill="#07876f" textLength="5.8" lengthAdjust="spacingAndGlyphs">E</text>
<path d="M1714.0 896.5q0 -1.5 1.5 -1.5H1729.5q1.5 0 1.5 1.5V908L1722.5 913.3L1714.0 908z" fill="#0f0f0f" stroke="#dc3340" stroke-width="2" stroke-linejoin="round"/><text x="1719.6" y="908.1" font-size="12.5" fill="#dc3340" textLength="5.8" lengthAdjust="spacingAndGlyphs">E</text>
<circle cx="1746.2" cy="903.5" r="9.4" fill="#0f0f0f" stroke="#2962ff" stroke-width="2"/><text x="1743.3" y="907.5" font-size="11.8" fill="#2962ff" textLength="6.3" lengthAdjust="spacingAndGlyphs">D</text>
<path d="M1748.0 896.5q0 -1.5 1.5 -1.5H1763.5q1.5 0 1.5 1.5V908L1756.5 913.3L1748.0 908z" fill="#0f0f0f" stroke="#dc3340" stroke-width="2" stroke-linejoin="round"/><text x="1753.6" y="908.1" font-size="12.5" fill="#dc3340" textLength="5.8" lengthAdjust="spacingAndGlyphs">E</text>
<circle cx="1828.8" cy="903.4" r="9.4" fill="#0f0f0f" stroke="#b64fcc" stroke-width="1.8"/><path d="M1831.6 898L1824.8 904.4H1828.7L1825.2 909L1832.7 903.2H1828.8z" fill="#b64fcc" stroke="#b64fcc" stroke-width="0.5" stroke-linejoin="round"/>
<path d="M1813.5 893.5L1822.0 899V910.5q0 1.5 -1.5 1.5H1806.5q-1.5 0 -1.5 -1.5V899z" fill="#0f0f0f" stroke="#07876f" stroke-width="2" stroke-linejoin="round"/><text x="1810.6" y="908.1" font-size="12.5" fill="#07876f" textLength="5.8" lengthAdjust="spacingAndGlyphs">E</text>
<g clip-path="url(#plot)"><rect x="1868" y="895.3" width="14" height="16.5" rx="1.5" fill="none" stroke="#d500f9" stroke-width="2"/><text x="1871" y="908.3" font-size="11" fill="#d500f9">E</text></g>
</g>
<g>
<path d="M137 887h12.4v14.8h-7v-8.6h-5.4z M160.1 887h6.6l-6.2 14.8h-6.6z" fill="#000" stroke="#000" stroke-width="3" stroke-linejoin="round" opacity="0.85"/>
<circle cx="154.1" cy="889.3" r="3.2" fill="#000" opacity="0.85"/>
<path d="M137 887h12.4v14.8h-7v-8.6h-5.4z M160.1 887h6.6l-6.2 14.8h-6.6z" fill="#e0e0e0"/>
<circle cx="154.1" cy="889.3" r="2.3" fill="#e0e0e0"/>
<text x="174" y="902" font-size="20.5" font-weight="bold" fill="#e0e0e0" stroke="#000" stroke-opacity="0.85" stroke-width="3" stroke-linejoin="round" paint-order="stroke" textLength="120.5" lengthAdjust="spacingAndGlyphs">TradingView</text>
</g>
<text x="1887" y="168.7" font-size="12" fill="#c4c4c4">80,00</text>
<text x="1887" y="210.0" font-size="12" fill="#c4c4c4">76,00</text>
<text x="1887" y="251.3" font-size="12" fill="#c4c4c4">72,00</text>
<text x="1887" y="292.7" font-size="12" fill="#c4c4c4">68,00</text>
<text x="1887" y="334.0" font-size="12" fill="#c4c4c4">64,00</text>
<text x="1887" y="416.6" font-size="12" fill="#c4c4c4">56,00</text>
<text x="1887" y="457.9" font-size="12" fill="#c4c4c4">52,00</text>
<text x="1887" y="499.3" font-size="12" fill="#c4c4c4">48,00</text>
<text x="1887" y="581.9" font-size="12" fill="#c4c4c4">40,00</text>
<text x="1887" y="664.5" font-size="12" fill="#c4c4c4">32,00</text>
<text x="1887" y="705.9" font-size="12" fill="#c4c4c4">28,00</text>
<text x="1887" y="747.2" font-size="12" fill="#c4c4c4">24,00</text>
<text x="1887" y="788.4" font-size="12" fill="#c4c4c4">20,000</text>
<text x="1887" y="829.7" font-size="12" fill="#c4c4c4">16,000</text>
<text x="1887" y="871.1" font-size="12" fill="#c4c4c4">12,000</text>
<text x="1887" y="912.1" font-size="12" fill="#c4c4c4">8,000</text>
<rect x="1882.5" y="126.5" width="53" height="25" rx="4" fill="none" stroke="#3a3a3a"/>
<text x="1885.3" y="143.2" font-size="12.5" fill="#e8e8e8" textLength="22.5" lengthAdjust="spacingAndGlyphs">EUR</text>
<path d="M1926.5 137.8l2.3 2.3 2.3-2.3" fill="none" stroke="#d0d0d0" stroke-width="1.3"/>
<path d="M1879 210H1920q2 0 2 2V239q0 2 -2 2H1879z" fill="#089981"/>
<text x="1887" y="221.9" font-size="12" font-weight="bold" fill="#fff">74,90</text>
<text x="1887" y="235.2" font-size="12" fill="#d8efe9">2d 8h</text>
<path d="M1879 352.4H1920q2 0 2 2V366.8q0 2 -2 2H1879z" fill="#ff6d00"/>
<text x="1887" y="364.1" font-size="12" fill="#fff" font-weight="bold">61,16</text>
<path d="M1879 369.2H1920q2 0 2 2V383.6q0 2 -2 2H1879z" fill="#ff9800"/>
<text x="1887" y="380.9" font-size="12" fill="#000" >59,58</text>
<path d="M1879 529H1920q2 0 2 2V543.8q0 2 -2 2H1879z" fill="#4caf50"/>
<text x="1887" y="540.9" font-size="12" fill="#fff" font-weight="bold">43,95</text>
<path d="M1879 614.2H1920q2 0 2 2V629q0 2 -2 2H1879z" fill="#4caf50"/>
<text x="1887" y="626.1" font-size="12" fill="#fff" font-weight="bold">35,75</text>
<path d="M1879 755.8H1920q2 0 2 2V770.6q0 2 -2 2H1879z" fill="#2962ff"/>
<text x="1887" y="767.7" font-size="12" fill="#fff" font-weight="bold">22,06</text>
<path d="M1879 891.2H1923.6q2 0 2 2V905.6q0 2 -2 2H1879z" fill="#26a69a"/>
<text x="1887" y="903.0" font-size="12" fill="#fff" font-weight="bold" textLength="33.5" lengthAdjust="spacingAndGlyphs">1,69 M</text>
<path d="M1905.8 924.2h7.4l3.7 6.2-3.7 6.2h-7.4l-3.7-6.2z" fill="none" stroke="#d0d0d0" stroke-width="1.2"/><circle cx="1909.5" cy="930.4" r="2" fill="none" stroke="#d0d0d0" stroke-width="1.2"/>
<text x="172.7" y="934.4" font-size="12.5" fill="#c4c4c4" text-anchor="middle" font-weight="bold">2019</text>
<text x="292.5" y="934.4" font-size="12.5" fill="#c4c4c4" text-anchor="middle">Lug</text>
<text x="422.2" y="934.4" font-size="12.5" fill="#c4c4c4" text-anchor="middle" font-weight="bold">2020</text>
<text x="546.5" y="934.4" font-size="12.5" fill="#c4c4c4" text-anchor="middle">Lug</text>
<text x="671.5" y="934.4" font-size="12.5" fill="#c4c4c4" text-anchor="middle" font-weight="bold">2021</text>
<text x="796" y="934.4" font-size="12.5" fill="#c4c4c4" text-anchor="middle">Lug</text>
<text x="921" y="934.4" font-size="12.5" fill="#c4c4c4" text-anchor="middle" font-weight="bold">2022</text>
<text x="1045.5" y="934.4" font-size="12.5" fill="#c4c4c4" text-anchor="middle">Lug</text>
<text x="1170.5" y="934.4" font-size="12.5" fill="#c4c4c4" text-anchor="middle" font-weight="bold">2023</text>
<text x="1295" y="934.4" font-size="12.5" fill="#c4c4c4" text-anchor="middle">Lug</text>
<text x="1420" y="934.4" font-size="12.5" fill="#c4c4c4" text-anchor="middle" font-weight="bold">2024</text>
<text x="1544.5" y="934.4" font-size="12.5" fill="#c4c4c4" text-anchor="middle">Lug</text>
<text x="1674" y="934.4" font-size="12.5" fill="#c4c4c4" text-anchor="middle" font-weight="bold">2025</text>
<text x="1798.5" y="934.4" font-size="12.5" fill="#c4c4c4" text-anchor="middle">Lug</text>
<circle cx="143" cy="137.8" r="9" fill="#eef0f8"/>
<text x="143.4" y="142.9" font-size="13.5" font-weight="bold" fill="#000" text-anchor="middle">P</text>
<text x="156.4" y="143.6" font-size="15" fill="#d6d6d6" textLength="95.5" lengthAdjust="spacingAndGlyphs">PRY · 1W · MIL</text>
<path d="M287 128.8H276.1a9 9 0 0 0 0 18H287z" fill="#12302a"/>
<path d="M287 128.8H298.1a9 9 0 0 1 0 18H287z" fill="#2e1520"/>
<circle cx="278" cy="137.8" r="4.1" fill="#089981"/>
<text x="295.8" y="143" font-size="15" font-weight="bold" fill="#e91e63" text-anchor="middle">≈</text>
<text x="323.1" y="143" font-size="13" fill="#d6d6d6" textLength="49.9" lengthAdjust="spacingAndGlyphs">O - Aper.</text>
<text x="375.4" y="143" font-size="13" fill="#089981" textLength="31.5" lengthAdjust="spacingAndGlyphs">74,18</text>
<text x="413" y="143" font-size="13" fill="#d6d6d6" textLength="47.3" lengthAdjust="spacingAndGlyphs">H - Max.</text>
<text x="463.3" y="143" font-size="13" fill="#089981" textLength="31.5" lengthAdjust="spacingAndGlyphs">76,94</text>
<text x="500.3" y="143" font-size="13" fill="#d6d6d6" textLength="43" lengthAdjust="spacingAndGlyphs">L - Min.</text>
<text x="545.5" y="143" font-size="13" fill="#089981" textLength="31.5" lengthAdjust="spacingAndGlyphs">74,18</text>
<text x="583.4" y="143" font-size="13" fill="#d6d6d6" textLength="54.5" lengthAdjust="spacingAndGlyphs">C - Chius.</text>
<text x="641.2" y="143" font-size="13" fill="#089981" textLength="30.9" lengthAdjust="spacingAndGlyphs">74,90</text>
<text x="678.8" y="143" font-size="13" fill="#f23645" textLength="30.9" lengthAdjust="spacingAndGlyphs">−1,42</text>
<text x="715.1" y="143" font-size="13" fill="#f23645" textLength="47.9" lengthAdjust="spacingAndGlyphs">(−1,86%)</text>
<rect x="133.5" y="154.5" width="54" height="33" rx="4" fill="none" stroke="#f23645"/>
<text x="160.5" y="168" font-size="13" font-weight="bold" fill="#f23645" text-anchor="middle">74,90</text>
<text x="144.8" y="182" font-size="11.5" fill="#f23645" stroke="#f23645" stroke-width="0.35" textLength="30.5" lengthAdjust="spacingAndGlyphs">VENDI</text>
<text x="205.2" y="174.4" font-size="11" font-weight="bold" fill="#d1d4dc" text-anchor="middle">0,00</text>
<rect x="223.5" y="154.5" width="64" height="33" rx="4" fill="none" stroke="#2962ff"/>
<text x="255.6" y="168" font-size="13" font-weight="bold" fill="#2962ff" text-anchor="middle">74,90</text>
<text x="233.7" y="182" font-size="11.5" fill="#2962ff" stroke="#2962ff" stroke-width="0.35" textLength="43" lengthAdjust="spacingAndGlyphs">COMPRA</text>
<rect x="131.5" y="195.5" width="31" height="20" rx="3" fill="none" stroke="#383838"/>
<path d="M137.8 203.6l3.8 3.8 3.8-3.8" fill="none" stroke="#d0d0d0" stroke-width="1.3"/>
<text x="151" y="209.8" font-size="13" fill="#d6d6d6">2</text>
<circle cx="823.4" cy="977.6" r="10.7" fill="#002c5f"/>
<path d="M855.2 967.2H874.8L840.9 1041.7L831 1019.8z" fill="#002c5f"/>
<path d="M887.9 967.2H907.7L873.7 1041.7L863.9 1019.8z" fill="#002c5f"/>
<text transform="translate(928.40,1041.2) scale(0.9960,1)" x="0" y="0" font-size="100.5" fill="#002c5f" stroke="#002c5f" stroke-width="1.81">w</text>
<text transform="translate(1000.81,1041.2) scale(0.9337,1)" x="0" y="0" font-size="100.5" fill="#002c5f" stroke="#002c5f" stroke-width="1.93">e</text>
<text transform="translate(1049.57,1041.2) scale(1.0597,1)" x="0" y="0" font-size="100.5" fill="#002c5f" stroke="#002c5f" stroke-width="1.70">b</text>
<text transform="translate(1108.94,1041.2) scale(0.9566,1)" x="0" y="0" font-size="100.5" fill="#002c5f" stroke="#002c5f" stroke-width="1.88">s</text>
<text transform="translate(1176.05,1041.2) scale(0.9429,1)" x="0" y="0" font-size="100.5" fill="#002c5f" stroke="#002c5f" stroke-width="1.91">m</text>
<rect x="1160" y="987.9" width="10.8" height="54.1" fill="#002c5f"/><circle cx="1165.4" cy="972.2" r="5.4" fill="#002c5f"/>
</svg></body></html>
